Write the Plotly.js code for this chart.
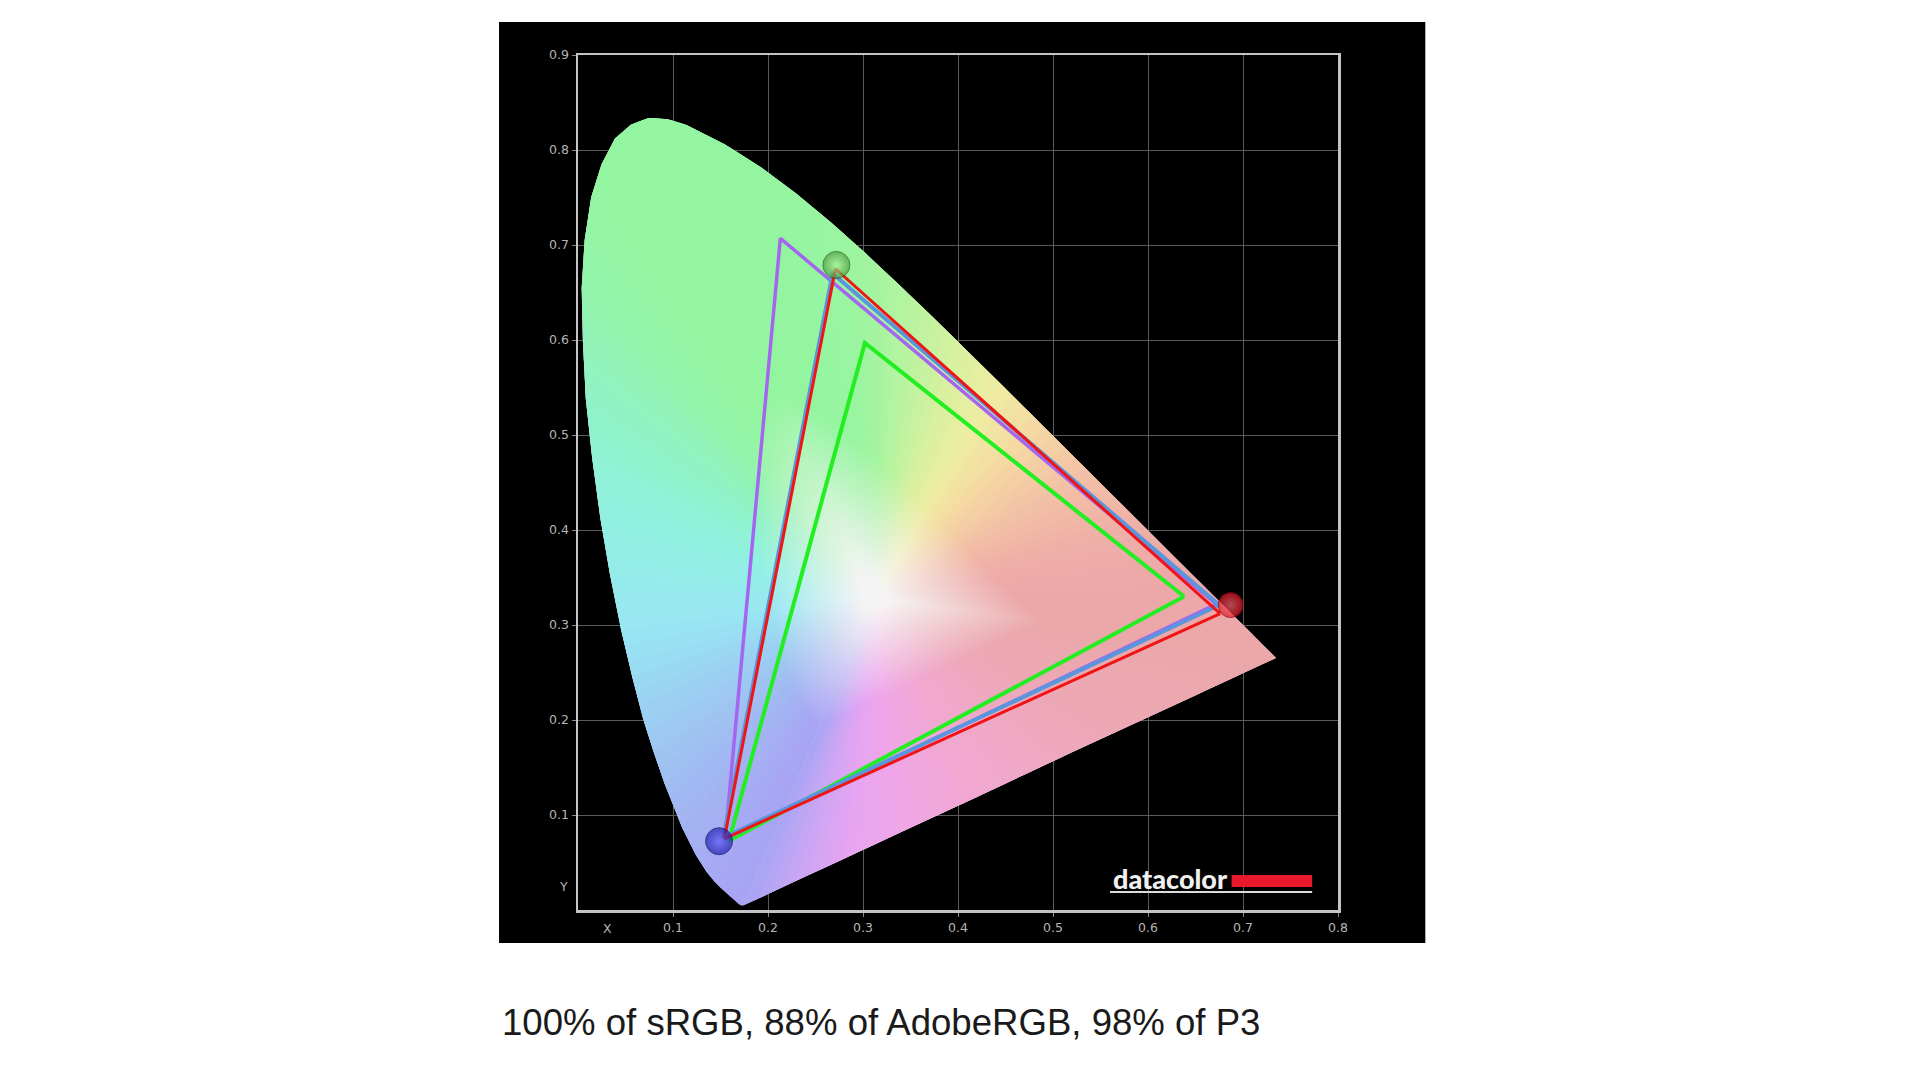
<!DOCTYPE html>
<html><head><meta charset="utf-8">
<script src="https://cdn.plot.ly/plotly-3.0.1.min.js"></script>
<style>html,body{margin:0;padding:0;background:#fff;}#chart{width:1920px;height:1080px;}</style>
</head><body><div id="chart"></div>
<script>
// spectral locus points (nm) and the fill tint read along the edge
const wavelengths = [380,420,430,440,450,455,460,465,470,475,480,482.5,485,487.5,490,492.5,495,497.5,500,502.5,505,507.5,510,512.5,515,517.5,520,522.5,525,530,535,540,545,550,555,560,565,570,575,580,585,590,595,600,610,620,630,640,650,700];
const locusX = [0.1741,0.1714,0.1689,0.1644,0.1566,0.1510,0.1440,0.1355,0.1241,0.1096,0.0913,0.0801,0.0687,0.0570,0.0454,0.0336,0.0235,0.0149,0.0082,0.0052,0.0039,0.0070,0.0139,0.0248,0.0389,0.0556,0.0743,0.0943,0.1142,0.1547,0.1929,0.2296,0.2658,0.3016,0.3373,0.3731,0.4087,0.4441,0.4788,0.5125,0.5448,0.5752,0.6029,0.6270,0.6658,0.6915,0.7079,0.7190,0.7260,0.7347];
const locusY = [0.0050,0.0051,0.0069,0.0109,0.0177,0.0227,0.0297,0.0399,0.0578,0.0868,0.1327,0.1650,0.2007,0.2459,0.2950,0.3536,0.4127,0.4760,0.5384,0.5980,0.6548,0.7050,0.7502,0.7850,0.8120,0.8265,0.8338,0.8325,0.8262,0.8059,0.7816,0.7543,0.7243,0.6923,0.6589,0.6245,0.5896,0.5547,0.5202,0.4866,0.4544,0.4242,0.3965,0.3725,0.3340,0.3083,0.2920,0.2809,0.2740,0.2653];
const locusColor = ['#a8a4f4','#a8a4f4','#a8a4f4','#a8a4f4','#a8a6f4','#a8a6f4','#a6a8f4','#a6aaf4','#a4aef2','#a2b4f2','#a0bef2','#9ec6f2','#9ccef2','#9adaf2','#98e6f2','#94ecea','#92f0e2','#90f2d4','#90f2c6','#91f3b8','#92f4ac','#93f5a6','#94f5a2','#94f5a0','#94f5a0','#94f5a0','#94f5a0','#94f5a0','#94f5a0','#94f5a0','#94f5a0','#96f5a0','#98f5a0','#a0f4a0','#aef4a0','#c4f2a0','#dcf0a0','#eeeca2','#f4dca2','#f4cca4','#f2bea6','#f0b4a6','#eeaea8','#eeaaa8','#eca8a8','#eca8a8','#eca8a8','#eca8a8','#eca8a8','#eaa8a8'];
// line of purples, from the red end back toward 380 nm
const purpleX = [0.62,0.52,0.42,0.34,0.28,0.23,0.19];
const purpleY = [0.212,0.166,0.119,0.082,0.054,0.031,0.012];
const purpleColor = ['#eca8b0','#eea8bc','#f0a8d0','#f0a6e6','#e4a4f2','#c8a6f4','#b0a6f4'];
// white point
const whiteX = [0.3127];
const whiteY = [0.3290];

// gamut triangles (R, G, B)
const srgbX = [0.638,0.302,0.159];   const srgbY = [0.330,0.597,0.073];
const adobeX = [0.672,0.213,0.155];  const adobeY = [0.322,0.707,0.075];
const p3X = [0.675,0.268,0.153];     const p3Y = [0.321,0.670,0.076];
const measX = [0.676,0.271,0.154];   const measY = [0.312,0.675,0.075];
// measured primaries (spheres)
const primX = [0.687,0.272,0.1485];
const primY = [0.321,0.679,0.0724];

const xTickVals = [0.1,0.2,0.3,0.4,0.5,0.6,0.7,0.8];
const xTickText = ['0.1','0.2','0.3','0.4','0.5','0.6','0.7','0.8'];
const yTickVals = [0.1,0.2,0.3,0.4,0.5,0.6,0.7,0.8,0.9];
const yTickText = ['0.1','0.2','0.3','0.4','0.5','0.6','0.7','0.8','0.9'];
const caption = '100% of sRGB, 88% of AdobeRGB, 98% of P3';

// ---- rendering of the shaded horseshoe (fan of radial-gradient wedges) ----
const PXX = 950.6, PXY = 950; // approx pixels per unit on each axis
const baseX = locusX.concat(purpleX), baseY = locusY.concat(purpleY), baseC = locusColor.concat(purpleColor);
const wx = whiteX[0], wy = whiteY[0];
function hex2rgb(h){return [1,3,5].map(k=>parseInt(h.substr(k,2),16));}
function lerpC(a,b,t){const pa=hex2rgb(a),pb=hex2rgb(b);return 'rgb('+pa.map((v,i)=>Math.round(v+(pb[i]-v)*t)).join(',')+')';}
const ex=[],ey=[],ec=[];
for(let i=0;i<baseX.length;i++){
  const j=(i+1)%baseX.length;
  const len=Math.hypot(baseX[j]-baseX[i],baseY[j]-baseY[i]);
  const m=Math.max(1,Math.ceil(len/0.018));
  for(let s=0;s<m;s++){
    const t=s/m;
    ex.push(baseX[i]+(baseX[j]-baseX[i])*t);
    ey.push(baseY[i]+(baseY[j]-baseY[i])*t);
    ec.push(lerpC(baseC[i],baseC[j],t+0.5/m));
  }
}
const traces=[];
traces.push({type:'scatter',mode:'lines',x:baseX.concat([baseX[0]]),y:baseY.concat([baseY[0]]),
  fill:'toself',fillcolor:'#d8dcea',line:{width:0},hoverinfo:'skip',showlegend:false});
const n=ex.length;
for(let i=0;i<n;i++){
  const j=(i+1)%n,k=(i+2)%n;
  const di=Math.hypot((ex[i]-wx)*PXX,(ey[i]-wy)*PXY);
  const dj=Math.hypot((ex[j]-wx)*PXX,(ey[j]-wy)*PXY);
  const dk=(i<n-1)?Math.hypot((ex[k]-wx)*PXX,(ey[k]-wy)*PXY):0;
  const R=Math.max(di,dj,dk)+1;
  const rx=R/PXX, ry=R/PXY;
  const xs=[wx,ex[i],ex[j]], ys=[wy,ey[i],ey[j]];
  if(i<n-1){xs.push(ex[k]);ys.push(ey[k]);}
  xs.push(wx,wx+rx,wx,wx-rx,wx); ys.push(wy,wy+ry,wy,wy-ry,wy);
  const rEdge=Math.min(di,dj)/R;
  const edge=ec[i];
  traces.push({type:'scatter',mode:'lines',x:xs,y:ys,fill:'toself',line:{width:0,simplify:false},
    fillgradient:{type:'radial',colorscale:[[0,'#f8f6f6'],[0.04*rEdge,'#f6f4f4'],[0.42*rEdge,edge],[1,edge]]},
    hoverinfo:'skip',showlegend:false});
}

function tri(xs,ys,color,w,name){
  return {type:'scatter',mode:'lines',name:name,x:xs.concat([xs[0]]),y:ys.concat([ys[0]]),
    line:{color:color,width:w},hoverinfo:'skip',showlegend:false};
}
traces.push(tri(srgbX,srgbY,'#22ee22',4,'sRGB'));
traces.push(tri(adobeX,adobeY,'#a466f0',3.5,'AdobeRGB'));
traces.push(tri(p3X,p3Y,'#5a96dc',4,'P3'));
traces.push(tri(measX,measY,'#f01414',3,'Measured'));

traces.push({type:'scatter',mode:'markers',x:primX,y:primY,hoverinfo:'skip',showlegend:false,
  marker:{size:[25,27,27],color:['#dc1424','#4a9a40','#1e1ea8'],
    gradient:{type:'radial',color:['#ff6a76','#b0f49a','#6060ff']},
    line:{width:1,color:['#900012','#2a5a22','#0c0c60']}}});

const axFont={family:'DejaVu Sans, Verdana, sans-serif',size:12.5,color:'#b4b4b4'};
const layout={
  width:1920,height:1080,
  paper_bgcolor:'#ffffff',plot_bgcolor:'#000000',
  margin:{l:578,r:582,t:55,b:170,pad:0},
  showlegend:false,
  xaxis:{range:[0,0.8],tickvals:xTickVals,ticktext:xTickText,showgrid:true,gridcolor:'#5a5a5a',gridwidth:1,
    zeroline:false,showline:true,mirror:true,linecolor:'#c4c4c4',linewidth:2.5,
    ticks:'outside',ticklen:4,tickcolor:'#888',tickfont:axFont,fixedrange:true},
  yaxis:{range:[0,0.9],tickvals:yTickVals,ticktext:yTickText,showgrid:true,gridcolor:'#5a5a5a',gridwidth:1,
    zeroline:false,showline:true,mirror:true,linecolor:'#c4c4c4',linewidth:2.5,
    ticks:'outside',ticklen:4,tickcolor:'#888',tickfont:axFont,fixedrange:true},
  shapes:[
    {type:'rect',xref:'paper',yref:'paper',x0:-0.1039,x1:1.1149,y0:-0.0386,y1:1.0386,
      fillcolor:'#000000',line:{width:0},layer:'below'},
    {type:'rect',xref:'paper',yref:'paper',x0:0.860,x1:0.966,y0:0.0269,y1:0.0409,
      fillcolor:'#e8192c',line:{width:0},layer:'above'},
    {type:'line',xref:'paper',yref:'paper',x0:0.700,x1:0.966,y0:0.0211,y1:0.0211,
      line:{color:'#dcdcdc',width:2},layer:'above'}
  ],
  annotations:[
    {text:'X',xref:'x',yref:'paper',x:0.031,y:0,yshift:-18,showarrow:false,
      font:{family:'DejaVu Sans, sans-serif',size:12.5,color:'#b4b4b4'},yanchor:'middle'},
    {text:'Y',xref:'paper',yref:'y',x:0,xshift:-8,y:0.025,xanchor:'right',showarrow:false,
      font:{family:'DejaVu Sans, sans-serif',size:12.5,color:'#b4b4b4'}},
    {text:'datacolor',xref:'paper',yref:'paper',x:0.858,y:0.037,xanchor:'right',yanchor:'middle',
      showarrow:false,font:{family:'Lato, sans-serif',size:27,weight:900,color:'#f0f0f0'}},
    {text:caption,xref:'paper',yref:'paper',x:-0.1026,y:-0.131,xanchor:'left',yanchor:'middle',
      showarrow:false,font:{family:'Liberation Sans, Arial, sans-serif',size:36.6,color:'#1a1a1a'}}
  ]
};
Plotly.newPlot('chart',traces,layout,{displayModeBar:false,staticPlot:true});
</script>
</body></html>
